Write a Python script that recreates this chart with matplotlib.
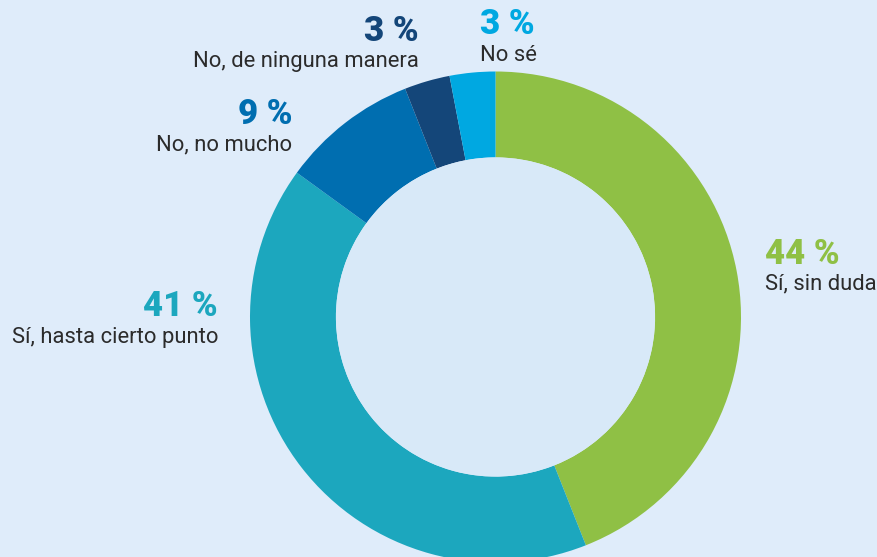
import matplotlib.pyplot as plt
from matplotlib.patches import Circle

# Datos
categorias = ['Sí, sin duda', 'Sí, hasta cierto punto', 'No, no mucho',
              'No, de ninguna manera', 'No sé']
valores = [44, 41, 9, 3, 3]
colores = ['#8fc045', '#1ca7be', '#006eb0', '#144679', '#00a8e1']

fondo = '#dfecfa'
interior = '#d8e9f8'
texto = '#2b2b2b'

W, H = 877, 557
fig = plt.figure(figsize=(W / 100, H / 100), dpi=100, facecolor=fondo)
ax = fig.add_axes([0, 0, 1, 1])

# Centro y radios en pixeles (y hacia arriba)
cx, cy = 495.5, H - 317
r_ext = 245.5

ax.pie(valores, colors=colores, startangle=90, counterclock=False,
       center=(cx, cy), radius=r_ext, frame=True,
       wedgeprops=dict(width=r_ext * 0.35, linewidth=0))
ax.add_patch(Circle((cx, cy), r_ext * 0.65, facecolor=interior, edgecolor='none'))
ax.set_xlim(0, W)
ax.set_ylim(0, H)
ax.set_aspect('equal')
ax.axis('off')

plt.rcParams['font.family'] = ['Roboto', 'DejaVu Sans']

# Etiquetas: (x, y_pct, y_label, alineacion)
posiciones = [
    (765, 264, 289, 'left'),
    (218, 316, 343, 'right'),
    (292, 124, 150, 'right'),
    (419, 41, 67, 'right'),
    (480, 34, 61, 'left'),
]

for cat, val, col, (x, yp, yl, ha) in zip(categorias, valores, colores, posiciones):
    ax.text(x, H - yp, f'{val} %', color=col, fontsize=25, fontweight='black',
            ha=ha, va='baseline')
    ax.text(x, H - yl, cat, color=texto, fontsize=15.8, ha=ha, va='baseline')

fig.savefig('out.png', dpi=100, facecolor=fondo)
